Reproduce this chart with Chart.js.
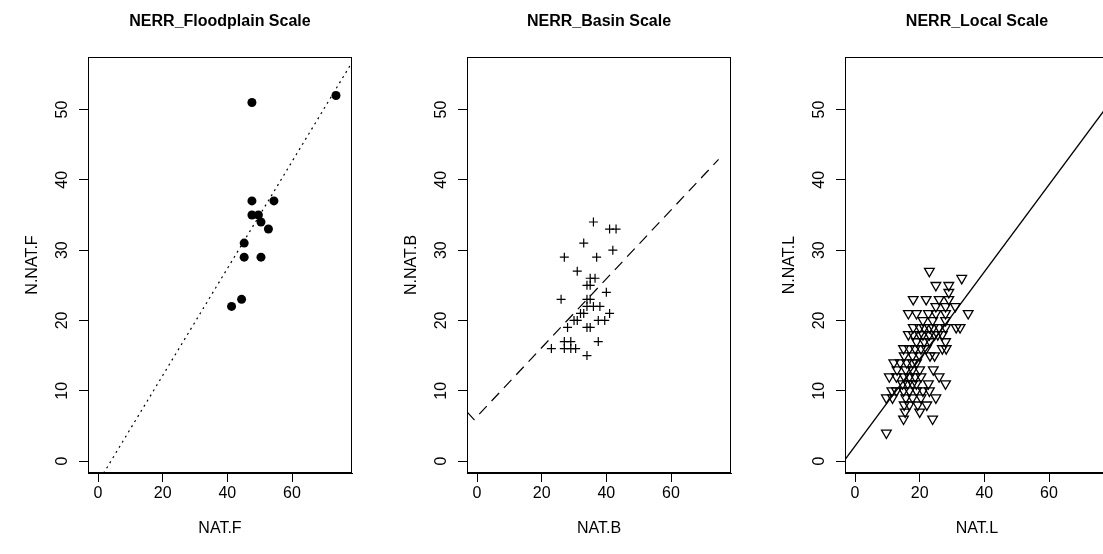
<!DOCTYPE html>
<html>
<head>
<meta charset="utf-8">
<script src="https://cdn.jsdelivr.net/npm/chart.js@4.4.1/dist/chart.umd.min.js"></script>
<style>
  html, body { margin: 0; padding: 0; background: #fff; overflow: hidden; width: 1103px; height: 554px; }
  .panel { position: absolute; top: 0; width: 440px; height: 554px; }
</style>
</head>
<body>
<div class="panel" style="left:0px"><canvas id="c-flood" width="440" height="554"></canvas></div>
<div class="panel" style="left:379px"><canvas id="c-basin" width="440" height="554"></canvas></div>
<div class="panel" style="left:757px"><canvas id="c-local" width="440" height="554"></canvas></div>
<script>
// tick labels shared by all three panels
const xTicks = [0, 20, 40, 60];
const yTicks = [0, 10, 20, 30, 40, 50];
const xRange = [-3.1, 78.55];
const yRange = [-1.7, 57.47];

// NERR_Floodplain
const floodX = [47.6, 73.6, 47.6, 54.4, 47.6, 49.6, 50.4, 52.7, 45.2, 45.2, 50.4, 44.4, 41.3];
const floodY = [51, 52, 37, 37, 35, 35, 34, 33, 31, 29, 29, 23, 22];
const floodLineX = [-3.1, 78.55];
const floodLineY = [-5.4, 56.7];

// NERR_Basin
const basinX = [36, 41, 43, 33, 42, 27, 37, 31, 35, 36.5, 34, 35, 40, 26, 34, 35, 34, 36, 38,
                32, 33, 41, 30, 31, 37.5, 39.5, 28, 34, 35, 27, 29, 37.5, 23, 27, 29, 30.5, 34];
const basinY = [34, 33, 33, 31, 30, 29, 29, 27, 26, 26, 25, 25, 24, 23, 23, 23, 22, 22, 22,
                21, 21, 21, 20, 20, 20, 20, 19, 19, 19, 17, 17, 17, 16, 16, 16, 16, 15];
const basinLineX = [-3.1, -0.9, 74.7];
const basinLineY = [7.0, 5.9, 42.9];

// NERR_Local
const localX = [23, 33, 25, 29, 29, 18, 22, 26, 29, 25, 28, 31,
  16.5, 19, 22.7, 25, 28, 35, 21, 24, 28,
  18, 20, 21.4, 23, 24.2, 26, 28, 31.3, 32.5,
  16.5, 18, 20, 21, 23, 24.6, 25.6, 27, 19, 21.4, 23.2, 28,
  15, 16.8, 18.6, 20.4, 22, 27, 28.2, 15.2, 17.8, 20, 23.2, 24.6,
  12, 14, 16, 17.8, 19, 13, 15.7, 17.8, 20, 24.2,
  10.6, 12.8, 15.2, 16.8, 18.6, 20.4, 26, 14.7, 16.3, 17.8, 19, 22.7, 28,
  11.4, 12.8, 15, 16.8, 19, 21, 23, 9.7, 11.6, 15.7, 17.8, 20.4, 25,
  15.2, 16.8, 19.4, 22.2, 15.5, 20, 15, 24, 9.7];
const localY = [27, 26, 25, 25, 24, 23, 23, 23, 23, 22, 22, 22,
  21, 21, 21, 21, 21, 21, 20, 20, 20,
  19, 19, 19, 19, 19, 19, 19, 19, 19,
  18, 18, 18, 18, 18, 18, 18, 18, 17, 17, 17, 17,
  16, 16, 16, 16, 16, 16, 16, 15, 15, 15, 15, 15,
  14, 14, 14, 14, 14, 13, 13, 13, 13, 13,
  12, 12, 12, 12, 12, 12, 12, 11, 11, 11, 11, 11, 11,
  10, 10, 10, 10, 10, 10, 10, 9, 9, 9, 9, 9, 9,
  8, 8, 8, 8, 7, 7, 6, 6, 4];
const localLineX = [-3.1, 78.55];
const localLineY = [0.2, 50.8];

const FONT = '"Liberation Sans", Arial, sans-serif';
const pts = (xs, ys) => xs.map((x, i) => ({ x, y: ys[i] }));

// box round the plot + rotated y tick labels (R style)
const rBox = {
  id: 'rBox',
  afterDraw(chart) {
    const { ctx, chartArea: a, scales: { y } } = chart;
    ctx.save();
    ctx.strokeStyle = '#000';
    ctx.lineWidth = 1;
    ctx.strokeRect(a.left + 0.5, a.top + 0.5, a.right - a.left - 1, a.bottom - a.top - 1);
    ctx.fillStyle = '#000';
    ctx.font = '16px ' + FONT;
    ctx.textAlign = 'center';
    ctx.textBaseline = 'middle';
    y.ticks.forEach(t => {
      ctx.save();
      ctx.translate(a.left - 25, y.getPixelForValue(t.value));
      ctx.rotate(-Math.PI / 2);
      ctx.fillText(String(t.value), 0, 0);
      ctx.restore();
    });
    ctx.restore();
  }
};

function makePanel(id, title, xLab, yLab, scatterDs, lineDs) {
  new Chart(document.getElementById(id), {
    type: 'scatter',
    data: { datasets: [lineDs, scatterDs] },
    options: {
      responsive: false,
      animation: false,
      events: [],
      layout: { padding: 0 },
      plugins: {
        legend: { display: false },
        tooltip: { enabled: false },
        title: {
          display: true, text: title, color: '#000',
          font: { family: FONT, size: 16, weight: 'bold' },
          padding: { top: 12.4, bottom: 25.4 }
        }
      },
      scales: {
        x: {
          min: xRange[0], max: xRange[1],
          afterBuildTicks: s => { s.ticks = xTicks.map(v => ({ value: v })); },
          afterFit: s => { s.height = 81; },
          grid: { drawOnChartArea: false, color: '#000', tickLength: 9 },
          border: { color: '#000', width: 1 },
          ticks: { color: '#000', padding: 2, font: { family: FONT, size: 16 } },
          title: { display: true, text: xLab, color: '#000', font: { family: FONT, size: 16 }, padding: { top: 0, bottom: 16 } }
        },
        y: {
          min: yRange[0], max: yRange[1],
          afterBuildTicks: s => { s.ticks = yTicks.map(v => ({ value: v })); },
          afterFit: s => { s.width = 88; },
          grid: { drawOnChartArea: false, color: '#000', tickLength: 9 },
          border: { color: '#000', width: 1 },
          ticks: { display: false },
          title: { display: true, text: yLab, color: '#000', font: { family: FONT, size: 16 }, padding: { top: 23, bottom: 0 } }
        },
        // empty right margin so the title centres over the plot box
        yPad: {
          position: 'right', display: true,
          afterFit: s => { s.width = 88; },
          grid: { display: false, drawTicks: false },
          border: { display: false },
          ticks: { display: false }
        }
      }
    },
    plugins: [rBox]
  });
}

makePanel('c-flood', 'NERR_Floodplain Scale', 'NAT.F', 'N.NAT.F',
  { data: pts(floodX, floodY), pointStyle: 'circle', pointRadius: 4.5, backgroundColor: '#000', borderWidth: 0 },
  { data: pts(floodLineX, floodLineY), showLine: true, pointRadius: 0, borderColor: '#000', borderWidth: 1.2, borderDash: [2, 4] });

makePanel('c-basin', 'NERR_Basin Scale', 'NAT.B', 'N.NAT.B',
  { data: pts(basinX, basinY), pointStyle: 'cross', pointRadius: 4.5, borderColor: '#000', borderWidth: 1.2, backgroundColor: '#000' },
  { data: pts(basinLineX, basinLineY), showLine: true, pointRadius: 0, borderColor: '#000', borderWidth: 1.2, borderDash: [11, 7] });

makePanel('c-local', 'NERR_Local Scale', 'NAT.L', 'N.NAT.L',
  { data: pts(localX, localY), pointStyle: 'triangle', rotation: 180, pointRadius: 5.6, borderColor: '#000', borderWidth: 1.3, backgroundColor: 'rgba(0,0,0,0)' },
  { data: pts(localLineX, localLineY), showLine: true, pointRadius: 0, borderColor: '#000', borderWidth: 1.4 });
</script>
</body>
</html>
